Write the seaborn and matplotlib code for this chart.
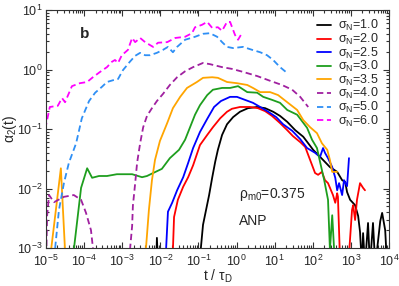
import numpy as np
import pandas as pd
import matplotlib
matplotlib.use("Agg")
import matplotlib.pyplot as plt
import seaborn as sns
from matplotlib.ticker import FixedLocator, LogLocator, LogFormatterSciNotation, NullFormatter

# ---- data (log10 values) ----
labels = ["1.0", "2.0", "2.5", "3.0", "3.5", "4.0", "5.0", "6.0"]
x_major_exp = [-5, -4, -3, -2, -1, 0, 1, 2, 3, 4]
y_major_exp = [-3, -2, -1, 0, 1]

s10_logt = [-2.11, -2.09, -2.06, -0.98, -0.88, -0.80, -0.72, -0.64, -0.56, -0.49, -0.38, -0.25, -0.09, 0.09,
            0.30, 0.54, 0.75, 0.96, 1.14, 1.33, 1.54, 1.75, 2.01, 2.27, 2.45, 2.64, 2.77, 2.85, 2.90, 2.98,
            3.11, 3.19, 3.24, 3.29, 3.32, 3.37, 3.45, 3.50, 3.58, 3.64, 3.77, 3.82, 3.90, 3.95]
s10_loga = [-3.3, -2.83, -3.3, -3.3, -2.61, -2.36, -2.11, -1.82, -1.55, -1.35, -1.10, -0.92, -0.80, -0.71,
            -0.65, -0.63, -0.65, -0.71, -0.78, -0.88, -1.02, -1.13, -1.35, -1.52, -1.64, -1.72, -1.86, -1.89,
            -2.06, -2.19, -2.28, -2.46, -2.73, -3.3, -2.75, -3.3, -2.58, -3.3, -2.58, -3.3, -2.55, -2.41,
            -2.70, -3.3]

s20_logt = [-1.67, -1.64, -1.54, -1.40, -1.27, -1.14, -0.96, -0.77, -0.62, -0.43, -0.25, -0.12, 0.09, 0.35,
            0.56, 0.75, 0.93, 1.14, 1.33, 1.48, 1.67, 1.80, 1.93, 2.06, 2.14, 2.24, 2.32, 2.40, 2.53, 2.59,
            2.64, 2.66, 2.72, 2.93, 3.03, 3.06, 3.11, 3.16, 3.24, 3.32, 3.37]
s20_loga = [-3.03, -2.48, -2.19, -1.97, -1.81, -1.61, -1.27, -1.10, -0.97, -0.82, -0.71, -0.66, -0.63, -0.63,
            -0.65, -0.70, -0.78, -0.90, -1.02, -1.12, -1.22, -1.30, -1.52, -1.74, -1.77, -1.72, -1.86, -1.91,
            -2.11, -2.24, -2.08, -2.14, -3.3, -3.3, -2.36, -2.28, -2.53, -2.19, -1.91, -1.99, -2.03]

s25_logt = [-1.85, -1.80, -1.69, -1.56, -1.40, -1.27, -1.14, -0.96, -0.77, -0.59, -0.41, -0.17, 0.01, 0.22,
            0.43, 0.62, 0.83, 1.04, 1.22, 1.46, 1.67, 1.85, 2.06, 2.19, 2.27, 2.32, 2.40, 2.51, 2.59, 2.64,
            2.69, 2.77, 2.82, 2.90, 2.95]
s25_loga = [-3.03, -2.39, -2.24, -2.03, -1.81, -1.57, -1.32, -1.05, -0.83, -0.63, -0.53, -0.46, -0.46, -0.51,
            -0.56, -0.63, -0.71, -0.80, -0.92, -1.03, -1.17, -1.32, -1.40, -1.47, -1.32, -1.40, -1.49, -1.64,
            -1.82, -2.03, -1.91, -2.11, -1.86, -1.96, -1.49]

s30_logt = [-4.27, -4.08, -3.92, -3.79, -3.61, -3.40, -3.14, -2.74, -2.48, -2.35, -2.19, -1.96, -1.75, -1.51,
            -1.35, -1.22, -1.09, -0.96, -0.77, -0.62, -0.38, -0.17, 0.04, 0.28, 0.54, 0.70, 0.93, 1.14, 1.33,
            1.59, 1.85, 1.98, 2.11, 2.19, 2.30, 2.40, 2.45, 2.51, 2.56]
s30_loga = [-3.03, -1.99, -1.66, -1.82, -1.79, -1.79, -1.76, -1.76, -1.81, -1.79, -1.74, -1.67, -1.49, -1.35,
            -1.18, -0.97, -0.76, -0.60, -0.43, -0.34, -0.31, -0.31, -0.28, -0.38, -0.39, -0.46, -0.51, -0.56,
            -0.68, -0.76, -0.98, -1.18, -1.32, -1.55, -1.86, -2.19, -3.03, -2.45, -3.03]

s35a_logt = [-4.87, -4.61, -4.50]
s35a_loga = [-3.05, -1.66, -3.05]
s35_logt = [-2.38, -2.30, -2.22, -2.14, -2.01, -1.82, -1.67, -1.48, -1.30, -1.04, -0.88, -0.64, -0.49, -0.25,
            0.01, 0.28, 0.43, 0.62, 0.88, 1.09, 1.33, 1.59, 1.75, 1.93, 2.11, 2.24, 2.38, 2.45, 2.51, 2.64]
s35_loga = [-3.03, -2.36, -1.86, -1.52, -1.20, -0.90, -0.65, -0.46, -0.31, -0.21, -0.14, -0.13, -0.14, -0.21,
            -0.23, -0.26, -0.31, -0.38, -0.38, -0.43, -0.55, -0.68, -0.85, -0.97, -1.07, -1.24, -1.35, -1.52,
            -1.72, -1.72]

s40a_logt = [-5.00, -4.97, -4.92, -4.79, -4.53, -4.27, -4.08, -3.95, -3.82, -3.76]
s40a_loga = [-3.3, -2.45, -2.11, -2.23, -2.14, -2.11, -2.19, -2.41, -2.70, -3.05]
s40_logt = [-2.82, -2.74, -2.72, -2.66, -2.61, -2.53, -2.45, -2.35, -2.22, -2.09, -1.93, -1.75, -1.56, -1.35,
            -1.14, -0.88, -0.70, -0.38, -0.12, 0.17, 0.54, 0.88, 1.19, 1.46, 1.67, 1.88]
s40_loga = [-3.2, -2.63, -2.29, -1.91, -1.57, -1.24, -0.97, -0.78, -0.65, -0.53, -0.41, -0.26, -0.13, -0.03,
            0.04, 0.11, 0.09, 0.04, 0.01, -0.04, -0.11, -0.19, -0.26, -0.34, -0.46, -0.63]

s50_logt = [-4.76, -4.66, -4.53, -4.40, -4.21, -4.06, -3.87, -3.71, -3.53, -3.40, -3.24, -3.11, -2.98, -2.80,
            -2.66, -2.53, -2.40, -2.27, -2.09, -1.93, -1.80, -1.67, -1.56, -1.35, -1.09, -0.88, -0.70, -0.51,
            -0.38, -0.25, -0.09, 0.17, 0.41, 0.62, 0.80, 0.96, 1.14, 1.33]
s50_loga = [-3.0, -2.36, -1.91, -1.57, -1.24, -0.82, -0.53, -0.39, -0.29, -0.21, -0.18, -0.16, -0.01, 0.13,
            0.23, 0.28, 0.24, 0.24, 0.28, 0.33, 0.38, 0.29, 0.38, 0.50, 0.55, 0.60, 0.61, 0.55, 0.46, 0.38,
            0.36, 0.38, 0.33, 0.29, 0.24, 0.16, 0.04, -0.06]

s60_logt = [-5.02, -4.90, -4.69, -4.58, -4.50, -4.32, -4.11, -3.92, -3.77, -3.58, -3.40, -3.27, -3.19, -3.11,
            -3.01, -2.85, -2.74, -2.66, -2.53, -2.40, -2.19, -2.06, -1.82, -1.61, -1.35, -1.17, -1.09, -0.91,
            -0.77, -0.64, -0.49, -0.38, -0.25, -0.17, -0.04, 0.04, 0.14]
s60_loga = [-1.0, -0.63, -0.61, -0.48, -0.55, -0.28, -0.23, -0.21, -0.13, -0.04, 0.04, 0.13, 0.16, 0.11,
            0.24, 0.33, 0.53, 0.46, 0.53, 0.46, 0.38, 0.45, 0.46, 0.53, 0.55, 0.61, 0.71, 0.75, 0.80, 0.70,
            0.71, 0.65, 0.80, 0.80, 0.58, 0.50, 0.61]

colors = ["#000000", "#ff0000", "#0000ff", "#1e9e1e", "#ffa500", "#a020a0", "#2e8ff5", "#ff00ff"]

# ---- style ----
sns.set_style("ticks")
plt.rcParams["font.family"] = ["Liberation Sans", "DejaVu Sans"]
plt.rcParams["mathtext.fontset"] = "custom"
plt.rcParams["mathtext.rm"] = "Liberation Sans"
plt.rcParams["mathtext.it"] = "Liberation Sans:italic"
plt.rcParams["axes.unicode_minus"] = False

fig = plt.figure(figsize=(3.99, 2.86), dpi=100)
ax = fig.add_axes([46 / 399, 1 - 248 / 286, 343 / 399, 238 / 286])

series = [
    (s10_logt, s10_loga, 0, True),
    (s20_logt, s20_loga, 1, True),
    (s25_logt, s25_loga, 2, True),
    (s30_logt, s30_loga, 3, True),
    (s35_logt, s35_loga, 4, True),
    (s35a_logt, s35a_loga, 4, False),
    (s40_logt, s40_loga, 5, True),
    (s40a_logt, s40a_loga, 5, False),
    (s50_logt, s50_loga, 6, True),
    (s60_logt, s60_loga, 7, True),
]

lw = 1.3
for lt, la, idx, lab in series:
    df = pd.DataFrame({"t": 10.0 ** np.array(lt), "a": 10.0 ** np.array(la)})
    dashed = idx >= 5
    sns.lineplot(data=df, x="t", y="a", ax=ax, sort=False, estimator=None,
                 color=colors[idx], linewidth=lw,
                 label=("σ$_\\mathrm{N}$=" + labels[idx]) if lab else None,
                 dashes=False)
    line = ax.lines[-1]
    if dashed:
        line.set_dashes((3.5, 2.0))

ax.set_xscale("log")
ax.set_yscale("log")
ax.set_xlim(1e-5, 1e4)
ax.set_ylim(1e-3, 1e1)

ax.xaxis.set_major_locator(FixedLocator(10.0 ** np.array(x_major_exp, dtype=float)))
ax.xaxis.set_minor_locator(LogLocator(base=10, subs=np.arange(2, 10), numticks=100))
ax.yaxis.set_major_locator(FixedLocator(10.0 ** np.array(y_major_exp, dtype=float)))
ax.yaxis.set_minor_locator(LogLocator(base=10, subs=np.arange(2, 10), numticks=100))
ax.xaxis.set_major_formatter(LogFormatterSciNotation())
ax.yaxis.set_major_formatter(LogFormatterSciNotation())
ax.xaxis.set_minor_formatter(NullFormatter())
ax.yaxis.set_minor_formatter(NullFormatter())

ax.tick_params(which="both", direction="in", top=True, right=True, labelsize=9, width=0.8, color="#333333")
ax.tick_params(axis="x", which="major", length=4.5, pad=4)
ax.tick_params(axis="y", which="major", length=4.5, pad=2.5)
ax.tick_params(which="minor", length=2.5)
for s in ax.spines.values():
    s.set_linewidth(0.8)
    s.set_color("#333333")

ax.set_xlabel("t / τ$_\\mathrm{D}$", fontsize=10)
ax.set_ylabel("α$_2$(t)", fontsize=10)
ax.xaxis.set_label_coords(0.5, -0.083)
ax.yaxis.set_label_coords(-0.079, 0.5)

ax.text(0.099, 0.882, "b", transform=ax.transAxes, fontsize=11, fontweight="bold")
ax.text(0.563, 0.21, "ρ$_\\mathrm{m0}$=0.375", transform=ax.transAxes, fontsize=10)
ax.text(0.563, 0.097, "ANP", transform=ax.transAxes, fontsize=10)

leg = ax.legend(loc="upper left", bbox_to_anchor=(0.79, 0.965), frameon=False, fontsize=9,
                handlelength=1.15, handletextpad=0.5, labelspacing=-0.12, borderpad=0, borderaxespad=0)

fig.savefig("out.png", dpi=100)
